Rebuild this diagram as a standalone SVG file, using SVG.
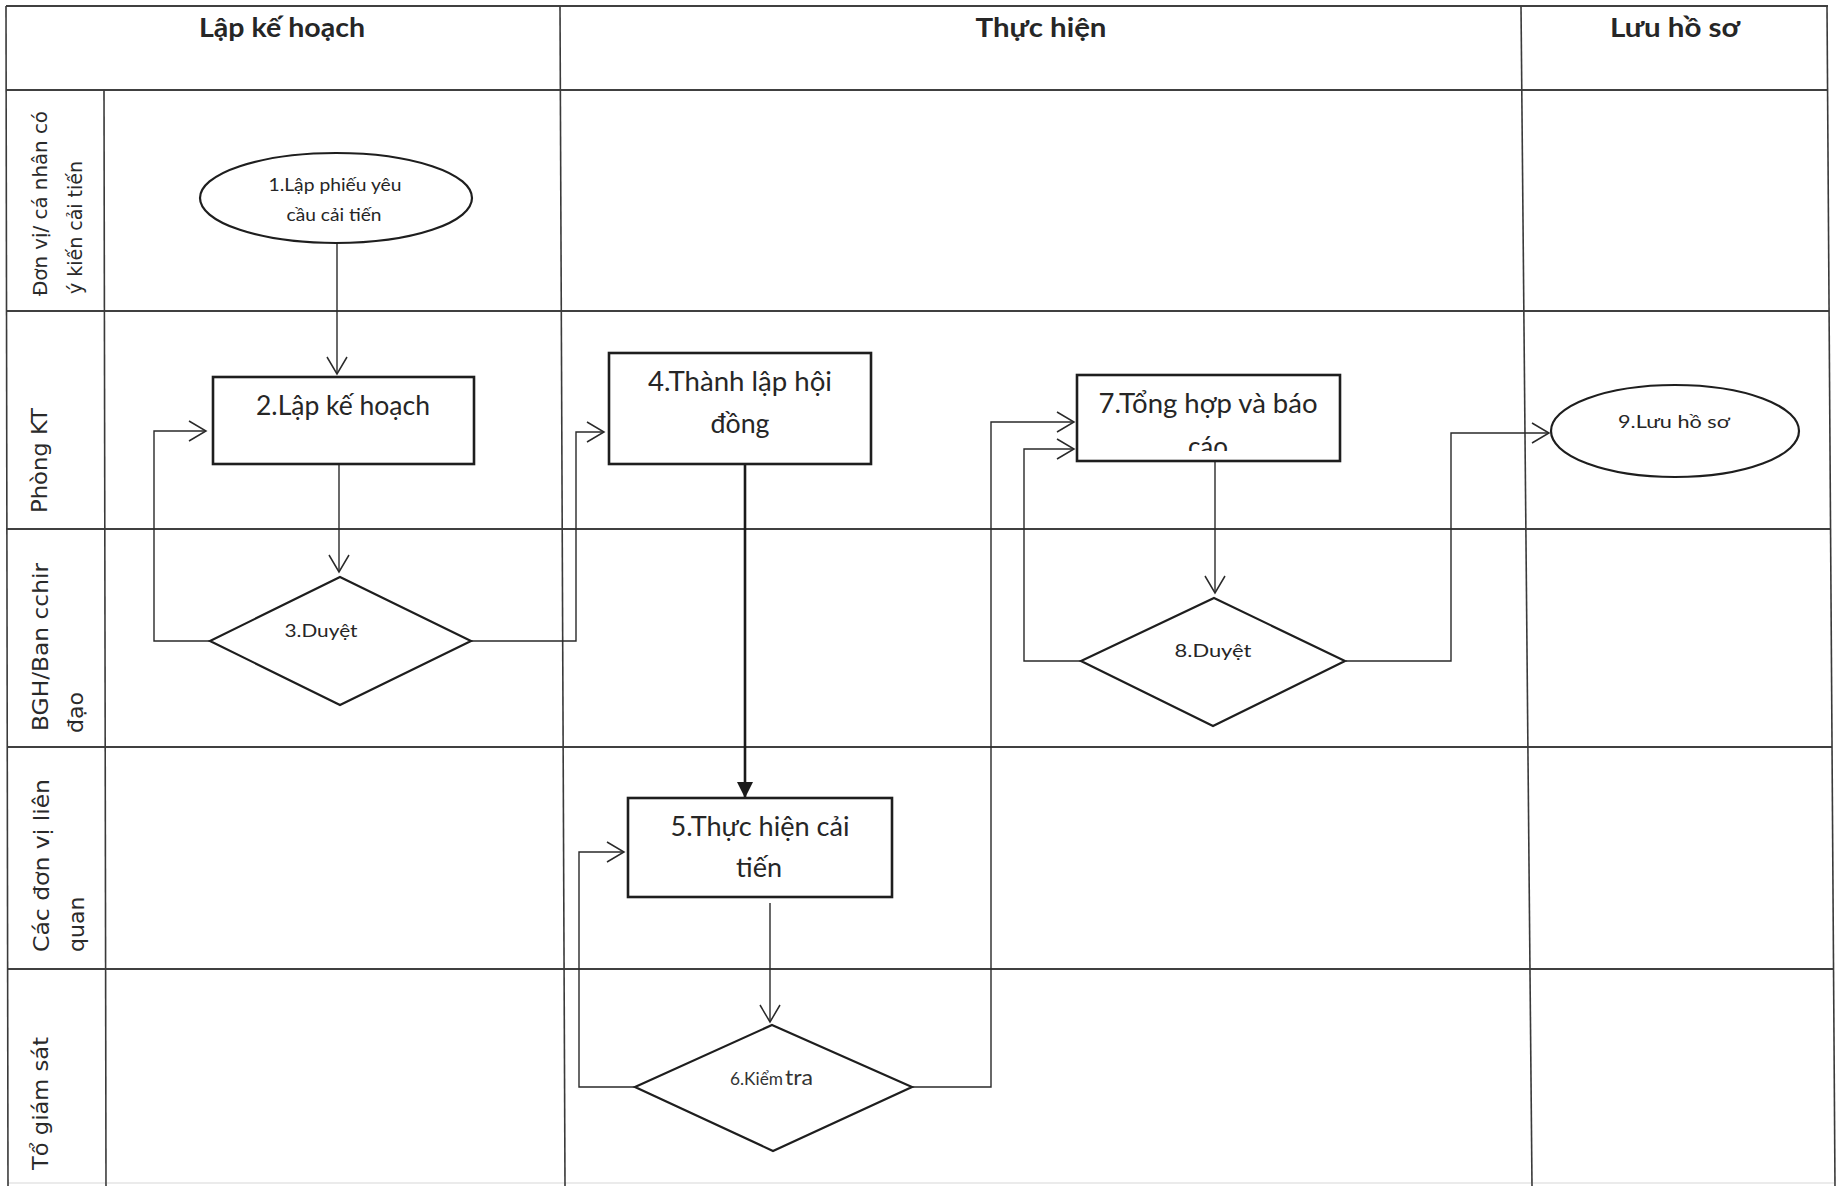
<svg xmlns="http://www.w3.org/2000/svg" width="1841" height="1186" viewBox="0 0 1841 1186">
  <style>
    .grid { stroke: #3a3a3a; stroke-width: 1.6; fill: none; }
    .hgrid { stroke: #404040; stroke-width: 2.2; fill: none; }
    .shape { fill: #ffffff; stroke: #1e1e1e; stroke-width: 2.6; }
    .dia { fill: #ffffff; stroke: #1e1e1e; stroke-width: 2.2; }
    .conn { fill: none; stroke: #2a2a2a; stroke-width: 1.4; }
    .thick { fill: none; stroke: #1a1a1a; stroke-width: 2.6; }
    .head { font-family: Lato, "Open Sans", sans-serif; font-weight: 700; font-size: 26px; fill: #262626; text-anchor: middle; }
    .lane { font-family: "DejaVu Sans", Verdana, sans-serif; font-size: 22px; fill: #2a2a2a; text-anchor: start; }
    .t26 { font-family: Lato, "Open Sans", sans-serif; font-size: 26px; fill: #262626; text-anchor: middle; }
    .t19 { font-family: Lato, "Open Sans", sans-serif; font-size: 18px; fill: #262626; text-anchor: middle; }
  </style>
  <defs>
    <marker id="open" markerUnits="userSpaceOnUse" viewBox="-20 -12 23 24" refX="0" refY="0" markerWidth="23" markerHeight="24" orient="auto">
      <path d="M-17,-10 L0,0 L-17,10" fill="none" stroke="#2a2a2a" stroke-width="1.5"/>
    </marker>
    <marker id="filled" markerUnits="userSpaceOnUse" viewBox="-17 -9 18 18" refX="0" refY="0" markerWidth="18" markerHeight="18" orient="auto">
      <path d="M-16,-8 L0,0 L-16,8 Z" fill="#1a1a1a"/>
    </marker>
    <clipPath id="clip7">
      <rect x="1077" y="375" width="263" height="76"/>
    </clipPath>
  </defs>

  <rect x="0" y="0" width="1841" height="1186" fill="#ffffff"/>

  <g id="grid">
    <line class="hgrid" x1="6" y1="6" x2="1828" y2="6"/>
    <line class="hgrid" x1="6" y1="90" x2="1828" y2="90"/>
    <line class="hgrid" x1="6" y1="311" x2="1829" y2="311"/>
    <line class="hgrid" x1="6" y1="529" x2="1830" y2="529"/>
    <line class="hgrid" x1="7" y1="747" x2="1832" y2="747"/>
    <line class="hgrid" x1="7" y1="969" x2="1834" y2="969"/>
    <line x1="8" y1="1183" x2="1835" y2="1183" stroke="#d8d8d8" stroke-width="1.2"/>
    <line class="grid" x1="6" y1="6" x2="8" y2="1186"/>
    <line class="grid" x1="104" y1="90" x2="106" y2="1186"/>
    <line class="grid" x1="560" y1="6" x2="565" y2="1186"/>
    <line class="grid" x1="1521" y1="6" x2="1532" y2="1186"/>
    <line class="grid" x1="1827" y1="6" x2="1835" y2="1186"/>
  </g>

  <g id="headers">
    <text class="head" x="282" y="37" textLength="166" lengthAdjust="spacingAndGlyphs">Lập kế hoạch</text>
    <text class="head" x="1041" y="37" textLength="131" lengthAdjust="spacingAndGlyphs">Thực hiện</text>
    <text class="head" x="1675" y="37" textLength="130" lengthAdjust="spacingAndGlyphs">Lưu hồ sơ</text>
  </g>

  <g id="lanes">
    <text class="lane" style="font-size:20px" transform="translate(47,296) rotate(-90)" textLength="185" lengthAdjust="spacingAndGlyphs">Đơn vị/ cá nhân có</text>
    <text class="lane" style="font-size:20px" transform="translate(82,294) rotate(-90)" textLength="133" lengthAdjust="spacingAndGlyphs">ý kiến cải tiến</text>
    <text class="lane" transform="translate(47,513) rotate(-90)" textLength="105" lengthAdjust="spacingAndGlyphs">Phòng KT</text>
    <text class="lane" transform="translate(48,731) rotate(-90)" textLength="168" lengthAdjust="spacingAndGlyphs">BGH/Ban cchir</text>
    <text class="lane" transform="translate(83,733) rotate(-90)">đạo</text>
    <text class="lane" transform="translate(49,952) rotate(-90)" textLength="173" lengthAdjust="spacingAndGlyphs">Các đơn vị liên</text>
    <text class="lane" transform="translate(84,952) rotate(-90)">quan</text>
    <text class="lane" transform="translate(48,1170) rotate(-90)" textLength="133" lengthAdjust="spacingAndGlyphs">Tổ giám sát</text>
  </g>

  <g id="connectors">
    <line class="conn" x1="337" y1="243" x2="337" y2="374" marker-end="url(#open)"/>
    <line class="conn" x1="339" y1="464" x2="339" y2="572" marker-end="url(#open)"/>
    <polyline class="conn" points="210,641 154,641 154,431 206,431" marker-end="url(#open)"/>
    <polyline class="conn" points="471,641 576,641 576,432 604,432" marker-end="url(#open)"/>
    <line class="thick" x1="745" y1="464" x2="745" y2="798" marker-end="url(#filled)"/>
    <line class="conn" x1="770" y1="903" x2="770" y2="1022" marker-end="url(#open)"/>
    <polyline class="conn" points="635,1087 579,1087 579,852 624,852" marker-end="url(#open)"/>
    <polyline class="conn" points="912,1087 991,1087 991,422 1074,422" marker-end="url(#open)"/>
    <polyline class="conn" points="1081,661 1024,661 1024,449 1074,449" marker-end="url(#open)"/>
    <line class="conn" x1="1215" y1="461" x2="1215" y2="593" marker-end="url(#open)"/>
    <polyline class="conn" points="1346,661 1451,661 1451,433 1549,433" marker-end="url(#open)"/>
  </g>

  <g id="n1">
    <ellipse class="shape" cx="336" cy="198" rx="136" ry="45" style="stroke-width:2.2"/>
    <text class="t19" x="335" y="191" textLength="133" lengthAdjust="spacingAndGlyphs">1.Lập phiếu yêu</text>
    <text class="t19" x="334" y="221" textLength="95" lengthAdjust="spacingAndGlyphs">cầu cải tiến</text>
  </g>

  <g id="n2">
    <rect class="shape" x="213" y="377" width="261" height="87"/>
    <text class="t26" x="343" y="415" textLength="174" lengthAdjust="spacingAndGlyphs">2.Lập kế hoạch</text>
  </g>

  <g id="n3">
    <polygon class="dia" points="340,577 471,641 340,705 210,641"/>
    <text class="t19" x="321" y="637" textLength="73" lengthAdjust="spacingAndGlyphs">3.Duyệt</text>
  </g>

  <g id="n4">
    <rect class="shape" x="609" y="353" width="262" height="111"/>
    <text class="t26" x="740" y="391" textLength="184" lengthAdjust="spacingAndGlyphs">4.Thành lập hội</text>
    <text class="t26" x="740" y="433" textLength="59" lengthAdjust="spacingAndGlyphs">đồng</text>
  </g>

  <g id="n5">
    <rect class="shape" x="628" y="798" width="264" height="99"/>
    <text class="t26" x="760" y="836" textLength="179" lengthAdjust="spacingAndGlyphs">5.Thực hiện cải</text>
    <text class="t26" x="759" y="877" textLength="46" lengthAdjust="spacingAndGlyphs">tiến</text>
  </g>

  <g id="n6">
    <polygon class="dia" points="772,1025 912,1087 773,1151 635,1087"/>
    <text x="730" y="1085" style="font-family:Lato,'Open Sans',sans-serif;font-size:17px;fill:#333"><tspan textLength="53" lengthAdjust="spacingAndGlyphs">6.Kiểm</tspan><tspan x="785" style="font-size:22px" textLength="28" lengthAdjust="spacingAndGlyphs">tra</tspan></text>
  </g>

  <g id="n7">
    <rect class="shape" x="1077" y="375" width="263" height="86"/>
    <text class="t26" x="1208" y="413" textLength="219" lengthAdjust="spacingAndGlyphs">7.Tổng hợp và báo</text>
    <text class="t26" x="1208" y="456" clip-path="url(#clip7)">cáo</text>
  </g>

  <g id="n8">
    <polygon class="dia" points="1214,598 1345,661 1213,726 1081,661"/>
    <text class="t19" x="1213" y="657" textLength="77" lengthAdjust="spacingAndGlyphs">8.Duyệt</text>
  </g>

  <g id="n9">
    <ellipse class="shape" cx="1675" cy="431" rx="124" ry="46" style="stroke-width:2.2"/>
    <text class="t19" x="1674" y="428" textLength="112" lengthAdjust="spacingAndGlyphs">9.Lưu hồ sơ</text>
  </g>
</svg>
